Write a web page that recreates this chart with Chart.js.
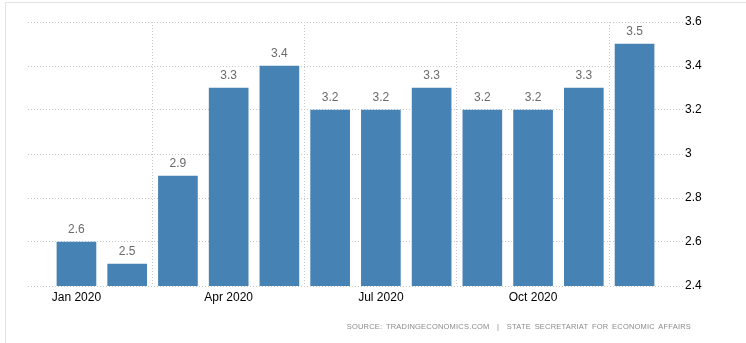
<!DOCTYPE html>
<html>
<head>
<meta charset="utf-8">
<script src="https://cdn.jsdelivr.net/npm/chart.js@4"></script>
<style>
  html, body { margin: 0; padding: 0; background: #fff; }
  #wrap { position: relative; width: 746px; height: 343px; overflow: hidden; }
  #frame { position: absolute; left: 5px; top: 2px; width: 800px; height: 400px; border: 1px solid #e3e3e3; box-sizing: border-box; }
  #grafico { position: absolute; left: 0; top: 0; }
  #fonte { position: absolute; right: 55px; top: 322px; font: 7.5px "Liberation Sans", Arial, sans-serif; color: #8a8a8a; letter-spacing: 0.2px; word-spacing: 1.5px; white-space: nowrap; }
</style>
</head>
<body>
<div id="wrap">
  <div id="frame"></div>
  <canvas id="grafico" width="746" height="343"></canvas>
  <div id="fonte">SOURCE: TRADINGECONOMICS.COM &nbsp;|&nbsp; STATE SECRETARIAT FOR ECONOMIC AFFAIRS</div>
</div>
<script>
var meses = ['Jan 2020', 'Feb 2020', 'Mar 2020', 'Apr 2020', 'May 2020', 'Jun 2020',
             'Jul 2020', 'Aug 2020', 'Sep 2020', 'Oct 2020', 'Nov 2020', 'Dec 2020'];
var valores = [2.6, 2.5, 2.9, 3.3, 3.4, 3.2, 3.2, 3.3, 3.2, 3.2, 3.3, 3.5];
var mesesRotulo = [0, 3, 6, 9];
var yTicks = [2.4, 2.6, 2.8, 3, 3.2, 3.4, 3.6];

// valor escrito acima de cada barra
var rotulos = {
    id: 'rotulos',
    afterDatasetsDraw: function(chart) {
        var ctx = chart.ctx;
        var meta = chart.getDatasetMeta(0);
        ctx.save();
        ctx.font = '12px "Liberation Sans", Arial, sans-serif';
        ctx.fillStyle = '#6b6b6b';
        ctx.textAlign = 'center';
        ctx.textBaseline = 'bottom';
        meta.data.forEach(function(bar, i) {
            ctx.fillText(String(valores[i]), bar.x, bar.y - 6);
        });
        ctx.restore();
    }
};

document.addEventListener('DOMContentLoaded', function() {
    var ctx = document.getElementById('grafico').getContext('2d');
    var myChart = new Chart(ctx, {
        type: 'bar',
        data: {
            datasets: [{
                data: valores.map(function(v, i) { return { x: i, y: v }; }),
                backgroundColor: '#4682b4',
                borderWidth: 0,
                barThickness: 39
            }]
        },
        options: {
            responsive: false,
            animation: false,
            layout: { padding: { left: 28, top: 22, right: 0, bottom: 0 } },
            plugins: {
                legend: { display: false },
                tooltip: { enabled: false }
            },
            scales: {
                x: {
                    type: 'linear',
                    min: -0.955,
                    max: 11.955,
                    offset: false,
                    afterBuildTicks: function(scale) {
                        scale.ticks = mesesRotulo.map(function(v) { return { value: v }; });
                    },
                    afterFit: function(scale) { scale.height = 57; },
                    ticks: {
                        autoSkip: false,
                        maxRotation: 0,
                        padding: 4,
                        color: '#000',
                        font: { family: '"Liberation Sans", Arial, sans-serif', size: 12 },
                        callback: function(v) { return meses[v]; }
                    },
                    grid: {
                        color: '#c8c8c8',
                        drawTicks: false
                    },
                    border: { display: false, dash: [1, 2] }
                },
                y: {
                    position: 'right',
                    min: 2.4,
                    max: 3.6,
                    afterBuildTicks: function(scale) {
                        scale.ticks = yTicks.map(function(v) { return { value: v }; });
                    },
                    afterFit: function(scale) { scale.width = 63; },
                    ticks: {
                        padding: 2,
                        color: '#000',
                        font: { family: '"Liberation Sans", Arial, sans-serif', size: 12 },
                        callback: function(v) { return String(Math.round(v * 10) / 10); }
                    },
                    grid: {
                        color: '#c8c8c8',
                        drawTicks: false
                    },
                    border: { display: false, dash: [1, 2] }
                }
            }
        },
        plugins: [rotulos]
    });
});
</script>
</body>
</html>
